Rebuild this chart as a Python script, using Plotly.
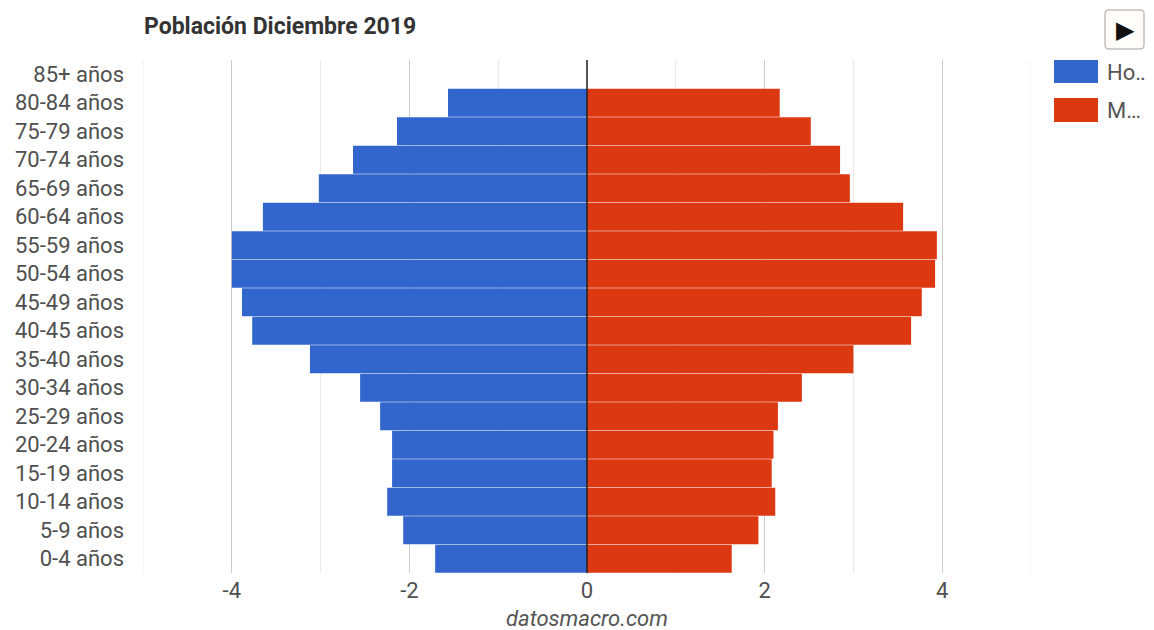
import plotly.graph_objects as go

categories = ["0-4 años", "5-9 años", "10-14 años", "15-19 años", "20-24 años", "25-29 años",
              "30-34 años", "35-40 años", "40-45 años", "45-49 años", "50-54 años", "55-59 años",
              "60-64 años", "65-69 años", "70-74 años", "75-79 años", "80-84 años", "85+ años"]
hombres = [-1.71, -2.07, -2.25, -2.195, -2.195, -2.33, -2.555, -3.12, -3.77, -3.885,
           -4.0, -4.0, -3.65, -3.02, -2.635, -2.14, -1.565, 0]
mujeres = [1.63, 1.93, 2.12, 2.08, 2.10, 2.15, 2.42, 3.0, 3.65, 3.77,
           3.92, 3.94, 3.56, 2.96, 2.85, 2.52, 2.17, 0]
x_ticks = [-4, -2, 0, 2, 4]
x_labels = ["-4", "-2", "0", "2", "4"]

BLUE = "#3366cc"
RED = "#dc3912"
FONT = "Roboto, Arial, sans-serif"
# the page adds an 8 px body margin, so the figure is 8 px smaller and starts at (8, 8)
W, H = 1146, 622
L, T, PW, PH = 135, 52, 888, 513


def px(v):
    return (v - 143) / PW


def py(v):
    return 1 - (v - 60) / PH


def rounded(x0, x1, y0, y1, r):
    rx, ry = r / PW, r / PH
    a, b, c, d = px(x0), px(x1), py(y1), py(y0)
    return (f"M{a + rx},{d} L{b - rx},{d} Q{b},{d} {b},{d - ry} L{b},{c + ry} Q{b},{c} {b - rx},{c} "
            f"L{a + rx},{c} Q{a},{c} {a},{c + ry} L{a},{d - ry} Q{a},{d} {a + rx},{d} Z")


fig = go.Figure()
fig.add_bar(y=categories, x=hombres, orientation="h", name="Hombres", marker=dict(color=BLUE, line_width=0))
fig.add_bar(y=categories, x=mujeres, orientation="h", name="Mujeres", marker=dict(color=RED, line_width=0))

edge_lines = [dict(type="line", xref="x", yref="paper", x0=v, x1=v, y0=0, y1=1,
                   line=dict(color="#ebebeb", width=1), layer="below") for v in (-5, 5)]

fig.update_layout(
    width=W, height=H, autosize=False,
    margin=dict(l=L, r=W - L - PW, t=T, b=H - T - PH, pad=0, autoexpand=False),
    paper_bgcolor="white", plot_bgcolor="white",
    barmode="overlay", bargap=0.025, showlegend=False,
    font=dict(family=FONT, size=22, color="#444444"),
    xaxis=dict(
        range=[-5, 5], tickvals=x_ticks, ticktext=x_labels, ticks="", showline=False, automargin=False,
        zeroline=False, showgrid=True, gridcolor="#cccccc", gridwidth=1,
        minor=dict(tick0=1, dtick=2, showgrid=True, gridcolor="#ebebeb", gridwidth=1, ticks=""),
        tickfont=dict(size=22, color="#505050"), ticklabelstandoff=2,
    ),
    yaxis=dict(
        categoryorder="array", categoryarray=categories, ticks="", showgrid=False, zeroline=False,
        showline=False, automargin=False, tickfont=dict(size=22, color="#505050"), ticklabelstandoff=18,
    ),
    shapes=edge_lines + [
        dict(type="line", xref="x", yref="paper", x0=0, x1=0, y0=0, y1=1,
             line=dict(color="#222222", width=1.5), layer="above"),
        dict(type="rect", xref="paper", yref="paper", x0=px(1054), x1=px(1098), y0=py(83), y1=py(60),
             fillcolor=BLUE, line_width=0),
        dict(type="rect", xref="paper", yref="paper", x0=px(1054), x1=px(1098), y0=py(122), y1=py(98),
             fillcolor=RED, line_width=0),
        dict(type="path", xref="paper", yref="paper", path=rounded(1105, 1144, 10, 49, 4),
             fillcolor="#fffdfa", line=dict(color="#c4c0bb", width=1.5)),
    ],
    annotations=[
        dict(text="<b>Población Diciembre 2019</b>", xref="paper", yref="paper", x=px(142), y=py(27),
             xanchor="left", yanchor="middle", showarrow=False, font=dict(size=23, color="#333333")),
        dict(text="Ho…", xref="paper", yref="paper", x=px(1105), y=py(72),
             xanchor="left", yanchor="middle", showarrow=False, font=dict(size=22, color="#555555")),
        dict(text="M…", xref="paper", yref="paper", x=px(1105), y=py(110),
             xanchor="left", yanchor="middle", showarrow=False, font=dict(size=22, color="#555555")),
        dict(text="▶", xref="paper", yref="paper", x=px(1125), y=py(30),
             xanchor="center", yanchor="middle", showarrow=False,
             font=dict(size=24, color="#111111", family="DejaVu Sans")),
        dict(text="<i>datosmacro.com</i>", xref="x", yref="paper", x=0, y=py(630), height=20,
             xanchor="center", yanchor="bottom", showarrow=False, font=dict(size=22, color="#555555")),
    ],
)

fig.write_html("out.html", config=dict(displayModeBar=False))
